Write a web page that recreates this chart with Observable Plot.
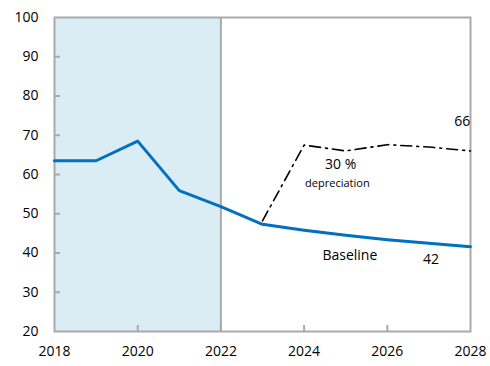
<!DOCTYPE html>
<html>
<head>
<meta charset="utf-8">
<script src="https://cdn.jsdelivr.net/npm/d3@7"></script>
<script src="https://cdn.jsdelivr.net/npm/@observablehq/plot@0.6"></script>
<style>
  html, body { margin: 0; padding: 0; background: #fff; }
  #chart svg { display: block; }
</style>
</head>
<body>
<div id="chart"></div>
<script>
const years = [2018, 2019, 2020, 2021, 2022, 2023, 2024, 2025, 2026, 2027, 2028];
const baseline = [63.5, 63.5, 68.5, 55.9, 51.8, 47.3, 45.8, 44.5, 43.4, 42.5, 41.6];
const depYears = [2023, 2024, 2025, 2026, 2027, 2028];
const depreciation = [48.2, 67.5, 66.0, 67.6, 67.0, 66.0];
const shadeStart = 2018, shadeEnd = 2022;
const yTicks = [20, 30, 40, 50, 60, 70, 80, 90, 100];
const xTicks = [2018, 2020, 2022, 2024, 2026, 2028];
const labelText = ["30 %", "depreciation", "66", "Baseline", "42"];
const labelX = [2024.88, 2024.8, 2027.8, 2025.1, 2027.05];
const labelY = [62.6, 57.8, 73.5, 39.4, 38.3];
const labelSize = [14, 11, 14, 14, 14];

const baseData = years.map((y, i) => ({year: y, value: baseline[i]}));
const depData = depYears.map((y, i) => ({year: y, value: depreciation[i]}));
const labels = labelText.map((t, i) => ({text: t, x: labelX[i], y: labelY[i], size: labelSize[i]}));

const font = "'Open Sans', 'Noto Sans', sans-serif";
const grey = "#aaaaaa";

const chart = Plot.plot({
  width: 490,
  height: 366,
  marginLeft: 54,
  marginRight: 20,
  marginTop: 17,
  marginBottom: 35,
  style: {fontFamily: font, fontSize: "14px", color: "#000", background: "#fff"},
  x: {domain: [2018, 2028]},
  y: {domain: [20, 100]},
  marks: [
    Plot.rectX([{x1: shadeStart, x2: shadeEnd}], {x1: "x1", x2: "x2", y1: 20, y2: 100, fill: "#daedf4"}),
    Plot.ruleX([shadeEnd], {stroke: grey, strokeWidth: 2}),
    Plot.axisY(yTicks.slice(1, -1), {anchor: "left", tickSize: 6, dx: 6, stroke: grey, strokeWidth: 2, strokeOpacity: 1, tickFormat: () => "", label: null}),
    Plot.axisX(xTicks.slice(1, -1), {anchor: "bottom", tickSize: 6, dy: -6, stroke: grey, strokeWidth: 2, strokeOpacity: 1, tickFormat: () => "", label: null}),
    Plot.axisY(yTicks, {anchor: "left", tickSize: 0, tickPadding: 16, fontSize: 14, fill: "#000", label: null}),
    Plot.axisX(xTicks, {anchor: "bottom", tickSize: 0, tickPadding: 15, fontSize: 14, fill: "#000", tickFormat: d => String(d), label: null}),
    Plot.frame({stroke: grey, strokeWidth: 2}),
    Plot.line(depData, {x: "year", y: "value", stroke: "#000", strokeWidth: 1.6, strokeDasharray: "11,5,2,5"}),
    Plot.line(baseData, {x: "year", y: "value", stroke: "#0070c0", strokeWidth: 3}),
    Plot.text(labels, {x: "x", y: "y", text: "text", fontSize: "size", fill: "#000"})
  ]
});
document.getElementById("chart").appendChild(chart);
</script>
</body>
</html>
